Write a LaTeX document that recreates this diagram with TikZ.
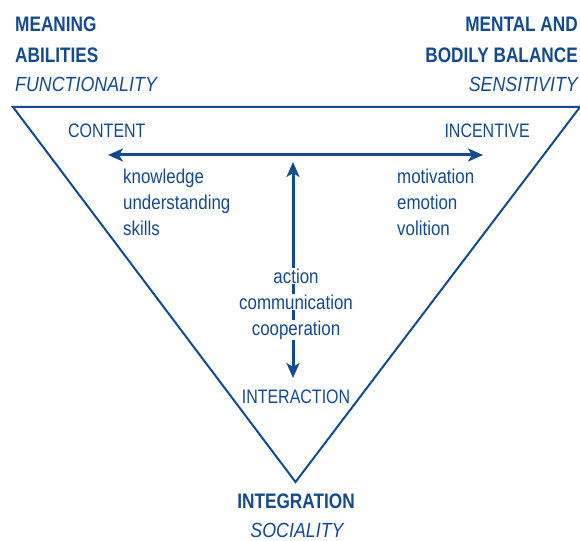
\documentclass[tikz,border=0pt]{standalone}
\usepackage{fontspec}
\setmainfont{Liberation Sans}[FakeStretch=0.82]
\newfontfamily\wideface{Liberation Sans}[FakeStretch=0.87]
\newfontfamily\textface{Liberation Sans}[FakeStretch=0.845]
\usetikzlibrary{arrows.meta}
\definecolor{navy}{RGB}{18,74,148}
\begin{document}
\begin{tikzpicture}[x=1pt,y=-1pt,
  every node/.style={text=navy,inner sep=0pt},
  head/.style={font=\fontsize{21}{21}\selectfont\bfseries},
  sub/.style={font=\wideface\fontsize{20.5}{20.5}\selectfont\itshape},
  label/.style={font=\fontsize{19.5}{19.5}\selectfont},
  item/.style={font=\textface\fontsize{20}{20}\selectfont},
  mid/.style={item,fill=white,inner xsep=2pt,inner ysep=1pt},
  edge/.style={draw=navy,line width=2pt,line join=miter},
  axis/.style={draw=navy,line width=3pt,{Stealth[length=15pt,width=13pt,inset=4pt]}-{Stealth[length=15pt,width=13pt,inset=4pt]}}]
\useasboundingbox (0,0) rectangle (580,540);

% triangle
\coordinate (tl) at (13,107);
\coordinate (tr) at (580,107);
\coordinate (bt) at (295.5,482);
\draw[edge] (tl) -- (tr) -- (bt) -- cycle;

% corner headings
\node[head,anchor=base west] (meaning) at (15,32) {MEANING};
\node[head,anchor=base west] (abilities) at (15,63) {ABILITIES};
\node[sub,anchor=base west] (functionality) at (15,92) {FUNCTIONALITY};
\node[head,anchor=base east] (mental) at (578,32) {MENTAL AND};
\node[head,anchor=base east] (bodily) at (578,63) {BODILY BALANCE};
\node[sub,anchor=base east] (sensitivity) at (578,92) {SENSITIVITY};
\node[head,anchor=base] (integration) at (296,508) {INTEGRATION};
\node[sub,anchor=base] (sociality) at (297,537) {SOCIALITY};

% inner labels
\node[label,anchor=base west] (content) at (68,138) {CONTENT};
\node[label,anchor=base east] (incentive) at (530,138) {INCENTIVE};
\node[label,anchor=base] (interaction) at (296,403) {INTERACTION};

% horizontal axis
\coordinate (hl) at (108,155);
\coordinate (hr) at (483,155);
\draw[axis] (hl) -- (hr);

% vertical axis
\coordinate (vt) at (293,162);
\coordinate (vb) at (293,378);
\draw[axis] (vb) -- (vt);

% lists
\node[item,anchor=base west] (knowledge) at (123,183) {knowledge};
\node[item,anchor=base west] (understanding) at (123,209) {understanding};
\node[item,anchor=base west] (skills) at (123,235) {skills};
\node[item,anchor=base west] (motivation) at (397,183) {motivation};
\node[item,anchor=base west] (emotion) at (397,209) {emotion};
\node[item,anchor=base west] (volition) at (397,235) {volition};
\node[mid,anchor=base] (action) at (296,283) {action};
\node[mid,anchor=base] (communication) at (296,309) {communication};
\node[mid,anchor=base] (cooperation) at (296,335) {cooperation};
\end{tikzpicture}
\end{document}
